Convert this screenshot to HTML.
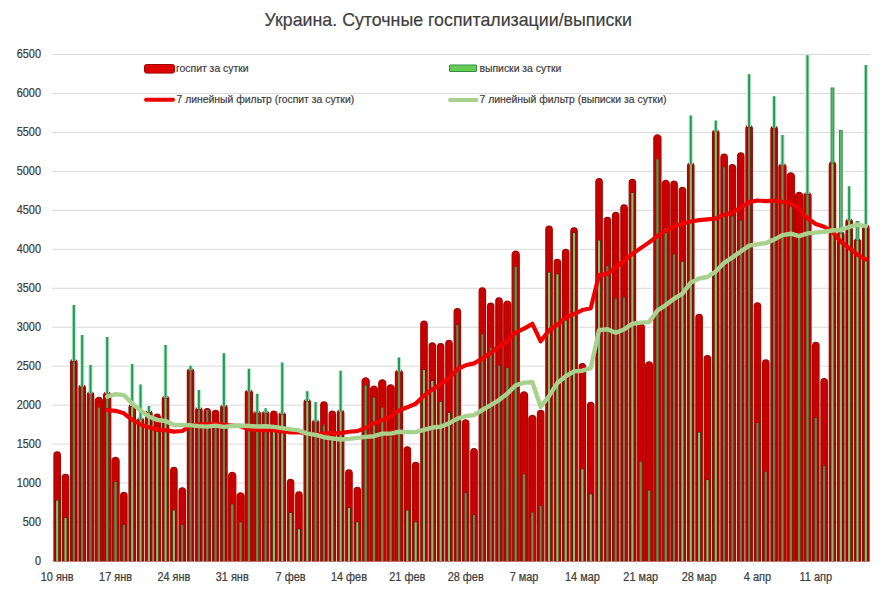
<!DOCTYPE html>
<html><head><meta charset="utf-8"><style>
html,body{margin:0;padding:0;background:#fff;width:896px;height:600px;overflow:hidden}
.ax{font-family:"Liberation Sans",sans-serif;font-size:12px;fill:#404040;stroke:#404040;stroke-width:0.25px}
.lg{font-family:"Liberation Sans",sans-serif;font-size:10.4px;fill:#404040;stroke:#404040;stroke-width:0.2px}
.tt{font-family:"Liberation Sans",sans-serif;font-size:17.8px;fill:#404040;stroke:#404040;stroke-width:0.2px}
</style></head><body>
<svg width="896" height="600" viewBox="0 0 896 600" style="position:absolute;left:0;top:0">
<line x1="52" y1="522.04" x2="870" y2="522.04" stroke="#d9d9d9" stroke-width="1"/>
<line x1="52" y1="483.08" x2="870" y2="483.08" stroke="#d9d9d9" stroke-width="1"/>
<line x1="52" y1="444.12" x2="870" y2="444.12" stroke="#d9d9d9" stroke-width="1"/>
<line x1="52" y1="405.16" x2="870" y2="405.16" stroke="#d9d9d9" stroke-width="1"/>
<line x1="52" y1="366.20" x2="870" y2="366.20" stroke="#d9d9d9" stroke-width="1"/>
<line x1="52" y1="327.24" x2="870" y2="327.24" stroke="#d9d9d9" stroke-width="1"/>
<line x1="52" y1="288.28" x2="870" y2="288.28" stroke="#d9d9d9" stroke-width="1"/>
<line x1="52" y1="249.32" x2="870" y2="249.32" stroke="#d9d9d9" stroke-width="1"/>
<line x1="52" y1="210.36" x2="870" y2="210.36" stroke="#d9d9d9" stroke-width="1"/>
<line x1="52" y1="171.40" x2="870" y2="171.40" stroke="#d9d9d9" stroke-width="1"/>
<line x1="52" y1="132.44" x2="870" y2="132.44" stroke="#d9d9d9" stroke-width="1"/>
<line x1="52" y1="93.48" x2="870" y2="93.48" stroke="#d9d9d9" stroke-width="1"/>
<line x1="52" y1="54.52" x2="870" y2="54.52" stroke="#d9d9d9" stroke-width="1"/>
<line x1="52" y1="561.50" x2="870" y2="561.50" stroke="#d9d9d9" stroke-width="1"/>
<text transform="translate(41,564.60) scale(0.91,1)" text-anchor="end" class="ax">0</text>
<text transform="translate(41,525.64) scale(0.91,1)" text-anchor="end" class="ax">500</text>
<text transform="translate(41,486.68) scale(0.91,1)" text-anchor="end" class="ax">1000</text>
<text transform="translate(41,447.72) scale(0.91,1)" text-anchor="end" class="ax">1500</text>
<text transform="translate(41,408.76) scale(0.91,1)" text-anchor="end" class="ax">2000</text>
<text transform="translate(41,369.80) scale(0.91,1)" text-anchor="end" class="ax">2500</text>
<text transform="translate(41,330.84) scale(0.91,1)" text-anchor="end" class="ax">3000</text>
<text transform="translate(41,291.88) scale(0.91,1)" text-anchor="end" class="ax">3500</text>
<text transform="translate(41,252.92) scale(0.91,1)" text-anchor="end" class="ax">4000</text>
<text transform="translate(41,213.96) scale(0.91,1)" text-anchor="end" class="ax">4500</text>
<text transform="translate(41,175.00) scale(0.91,1)" text-anchor="end" class="ax">5000</text>
<text transform="translate(41,136.04) scale(0.91,1)" text-anchor="end" class="ax">5500</text>
<text transform="translate(41,97.08) scale(0.91,1)" text-anchor="end" class="ax">6000</text>
<text transform="translate(41,58.12) scale(0.91,1)" text-anchor="end" class="ax">6500</text>
<text transform="translate(57.17,581) scale(0.91,1)" text-anchor="middle" class="ax">10 янв</text>
<line x1="53.00" y1="561" x2="53.00" y2="565" stroke="#e6e6e6" stroke-width="1"/>
<text transform="translate(115.53,581) scale(0.91,1)" text-anchor="middle" class="ax">17 янв</text>
<line x1="111.36" y1="561" x2="111.36" y2="565" stroke="#e6e6e6" stroke-width="1"/>
<text transform="translate(173.88,581) scale(0.91,1)" text-anchor="middle" class="ax">24 янв</text>
<line x1="169.71" y1="561" x2="169.71" y2="565" stroke="#e6e6e6" stroke-width="1"/>
<text transform="translate(232.24,581) scale(0.91,1)" text-anchor="middle" class="ax">31 янв</text>
<line x1="228.07" y1="561" x2="228.07" y2="565" stroke="#e6e6e6" stroke-width="1"/>
<text transform="translate(290.60,581) scale(0.91,1)" text-anchor="middle" class="ax">7 фев</text>
<line x1="286.43" y1="561" x2="286.43" y2="565" stroke="#e6e6e6" stroke-width="1"/>
<text transform="translate(348.95,581) scale(0.91,1)" text-anchor="middle" class="ax">14 фев</text>
<line x1="344.79" y1="561" x2="344.79" y2="565" stroke="#e6e6e6" stroke-width="1"/>
<text transform="translate(407.31,581) scale(0.91,1)" text-anchor="middle" class="ax">21 фев</text>
<line x1="403.14" y1="561" x2="403.14" y2="565" stroke="#e6e6e6" stroke-width="1"/>
<text transform="translate(465.67,581) scale(0.91,1)" text-anchor="middle" class="ax">28 фев</text>
<line x1="461.50" y1="561" x2="461.50" y2="565" stroke="#e6e6e6" stroke-width="1"/>
<text transform="translate(524.03,581) scale(0.91,1)" text-anchor="middle" class="ax">7 мар</text>
<line x1="519.86" y1="561" x2="519.86" y2="565" stroke="#e6e6e6" stroke-width="1"/>
<text transform="translate(582.38,581) scale(0.91,1)" text-anchor="middle" class="ax">14 мар</text>
<line x1="578.21" y1="561" x2="578.21" y2="565" stroke="#e6e6e6" stroke-width="1"/>
<text transform="translate(640.74,581) scale(0.91,1)" text-anchor="middle" class="ax">21 мар</text>
<line x1="636.57" y1="561" x2="636.57" y2="565" stroke="#e6e6e6" stroke-width="1"/>
<text transform="translate(699.10,581) scale(0.91,1)" text-anchor="middle" class="ax">28 мар</text>
<line x1="694.93" y1="561" x2="694.93" y2="565" stroke="#e6e6e6" stroke-width="1"/>
<text transform="translate(757.45,581) scale(0.91,1)" text-anchor="middle" class="ax">4 апр</text>
<line x1="753.29" y1="561" x2="753.29" y2="565" stroke="#e6e6e6" stroke-width="1"/>
<text transform="translate(815.81,581) scale(0.91,1)" text-anchor="middle" class="ax">11 апр</text>
<line x1="811.64" y1="561" x2="811.64" y2="565" stroke="#e6e6e6" stroke-width="1"/>
<path d="M53.97,561.0 L53.97,455.00 A3.2,3.2 0 0 1 57.17,451.80 L57.17,451.80 A3.2,3.2 0 0 1 60.37,455.00 L60.37,561.0 Z" fill="#c80000" stroke="#a00800" stroke-width="1.2"/>
<path d="M62.31,561.0 L62.31,477.50 A3.2,3.2 0 0 1 65.51,474.30 L65.51,474.30 A3.2,3.2 0 0 1 68.71,477.50 L68.71,561.0 Z" fill="#c80000" stroke="#a00800" stroke-width="1.2"/>
<path d="M70.64,561.0 L70.64,362.50 A3.2,3.2 0 0 1 73.84,359.30 L73.84,359.30 A3.2,3.2 0 0 1 77.04,362.50 L77.04,561.0 Z" fill="#c80000" stroke="#a00800" stroke-width="1.2"/>
<path d="M78.98,561.0 L78.98,388.00 A3.2,3.2 0 0 1 82.18,384.80 L82.18,384.80 A3.2,3.2 0 0 1 85.38,388.00 L85.38,561.0 Z" fill="#c80000" stroke="#a00800" stroke-width="1.2"/>
<path d="M87.32,561.0 L87.32,395.00 A3.2,3.2 0 0 1 90.52,391.80 L90.52,391.80 A3.2,3.2 0 0 1 93.72,395.00 L93.72,561.0 Z" fill="#c80000" stroke="#a00800" stroke-width="1.2"/>
<path d="M95.30,561.0 L95.30,400.85 A3.55,3.55 0 0 1 98.85,397.30 L98.85,397.30 A3.55,3.55 0 0 1 102.40,400.85 L102.40,561.0 Z" fill="#c80000" stroke="#b00000" stroke-width="1.2"/>
<path d="M103.64,561.0 L103.64,395.35 A3.55,3.55 0 0 1 107.19,391.80 L107.19,391.80 A3.55,3.55 0 0 1 110.74,395.35 L110.74,561.0 Z" fill="#c80000" stroke="#b00000" stroke-width="1.2"/>
<path d="M111.98,561.0 L111.98,460.85 A3.55,3.55 0 0 1 115.53,457.30 L115.53,457.30 A3.55,3.55 0 0 1 119.08,460.85 L119.08,561.0 Z" fill="#c80000" stroke="#b00000" stroke-width="1.2"/>
<path d="M120.66,561.0 L120.66,495.50 A3.2,3.2 0 0 1 123.86,492.30 L123.86,492.30 A3.2,3.2 0 0 1 127.06,495.50 L127.06,561.0 Z" fill="#c80000" stroke="#a00800" stroke-width="1.2"/>
<path d="M129.00,561.0 L129.00,407.50 A3.2,3.2 0 0 1 132.20,404.30 L132.20,404.30 A3.2,3.2 0 0 1 135.40,407.50 L135.40,561.0 Z" fill="#c80000" stroke="#a00800" stroke-width="1.2"/>
<path d="M137.34,561.0 L137.34,421.00 A3.2,3.2 0 0 1 140.54,417.80 L140.54,417.80 A3.2,3.2 0 0 1 143.74,421.00 L143.74,561.0 Z" fill="#c80000" stroke="#a00800" stroke-width="1.2"/>
<path d="M145.67,561.0 L145.67,413.70 A3.2,3.2 0 0 1 148.87,410.50 L148.87,410.50 A3.2,3.2 0 0 1 152.07,413.70 L152.07,561.0 Z" fill="#c80000" stroke="#a00800" stroke-width="1.2"/>
<path d="M154.01,561.0 L154.01,417.30 A3.2,3.2 0 0 1 157.21,414.10 L157.21,414.10 A3.2,3.2 0 0 1 160.41,417.30 L160.41,561.0 Z" fill="#c80000" stroke="#a00800" stroke-width="1.2"/>
<path d="M162.35,561.0 L162.35,399.30 A3.2,3.2 0 0 1 165.55,396.10 L165.55,396.10 A3.2,3.2 0 0 1 168.75,399.30 L168.75,561.0 Z" fill="#c80000" stroke="#a00800" stroke-width="1.2"/>
<path d="M170.68,561.0 L170.68,470.50 A3.2,3.2 0 0 1 173.88,467.30 L173.88,467.30 A3.2,3.2 0 0 1 177.08,470.50 L177.08,561.0 Z" fill="#c80000" stroke="#a00800" stroke-width="1.2"/>
<path d="M179.02,561.0 L179.02,491.00 A3.2,3.2 0 0 1 182.22,487.80 L182.22,487.80 A3.2,3.2 0 0 1 185.42,491.00 L185.42,561.0 Z" fill="#c80000" stroke="#a00800" stroke-width="1.2"/>
<path d="M187.36,561.0 L187.36,371.75 A3.2,3.2 0 0 1 190.56,368.55 L190.56,368.55 A3.2,3.2 0 0 1 193.76,371.75 L193.76,561.0 Z" fill="#c80000" stroke="#a00800" stroke-width="1.2"/>
<path d="M195.69,561.0 L195.69,410.50 A3.2,3.2 0 0 1 198.89,407.30 L198.89,407.30 A3.2,3.2 0 0 1 202.09,410.50 L202.09,561.0 Z" fill="#c80000" stroke="#a00800" stroke-width="1.2"/>
<path d="M204.03,561.0 L204.03,411.75 A3.2,3.2 0 0 1 207.23,408.55 L207.23,408.55 A3.2,3.2 0 0 1 210.43,411.75 L210.43,561.0 Z" fill="#c80000" stroke="#a00800" stroke-width="1.2"/>
<path d="M212.37,561.0 L212.37,413.50 A3.2,3.2 0 0 1 215.57,410.30 L215.57,410.30 A3.2,3.2 0 0 1 218.77,413.50 L218.77,561.0 Z" fill="#c80000" stroke="#a00800" stroke-width="1.2"/>
<path d="M220.70,561.0 L220.70,408.00 A3.2,3.2 0 0 1 223.90,404.80 L223.90,404.80 A3.2,3.2 0 0 1 227.10,408.00 L227.10,561.0 Z" fill="#c80000" stroke="#a00800" stroke-width="1.2"/>
<path d="M228.69,561.0 L228.69,475.85 A3.55,3.55 0 0 1 232.24,472.30 L232.24,472.30 A3.55,3.55 0 0 1 235.79,475.85 L235.79,561.0 Z" fill="#c80000" stroke="#b00000" stroke-width="1.2"/>
<path d="M237.03,561.0 L237.03,496.35 A3.55,3.55 0 0 1 240.58,492.80 L240.58,492.80 A3.55,3.55 0 0 1 244.13,496.35 L244.13,561.0 Z" fill="#c80000" stroke="#b00000" stroke-width="1.2"/>
<path d="M245.36,561.0 L245.36,393.35 A3.55,3.55 0 0 1 248.91,389.80 L248.91,389.80 A3.55,3.55 0 0 1 252.46,393.35 L252.46,561.0 Z" fill="#c80000" stroke="#b00000" stroke-width="1.2"/>
<path d="M253.70,561.0 L253.70,414.60 A3.55,3.55 0 0 1 257.25,411.05 L257.25,411.05 A3.55,3.55 0 0 1 260.80,414.60 L260.80,561.0 Z" fill="#c80000" stroke="#b00000" stroke-width="1.2"/>
<path d="M262.39,561.0 L262.39,414.25 A3.2,3.2 0 0 1 265.59,411.05 L265.59,411.05 A3.2,3.2 0 0 1 268.79,414.25 L268.79,561.0 Z" fill="#c80000" stroke="#a00800" stroke-width="1.2"/>
<path d="M270.72,561.0 L270.72,414.25 A3.2,3.2 0 0 1 273.92,411.05 L273.92,411.05 A3.2,3.2 0 0 1 277.12,414.25 L277.12,561.0 Z" fill="#c80000" stroke="#a00800" stroke-width="1.2"/>
<path d="M279.06,561.0 L279.06,415.50 A3.2,3.2 0 0 1 282.26,412.30 L282.26,412.30 A3.2,3.2 0 0 1 285.46,415.50 L285.46,561.0 Z" fill="#c80000" stroke="#a00800" stroke-width="1.2"/>
<path d="M287.40,561.0 L287.40,482.50 A3.2,3.2 0 0 1 290.60,479.30 L290.60,479.30 A3.2,3.2 0 0 1 293.80,482.50 L293.80,561.0 Z" fill="#c80000" stroke="#a00800" stroke-width="1.2"/>
<path d="M295.73,561.0 L295.73,495.00 A3.2,3.2 0 0 1 298.93,491.80 L298.93,491.80 A3.2,3.2 0 0 1 302.13,495.00 L302.13,561.0 Z" fill="#c80000" stroke="#a00800" stroke-width="1.2"/>
<path d="M304.07,561.0 L304.07,402.50 A3.2,3.2 0 0 1 307.27,399.30 L307.27,399.30 A3.2,3.2 0 0 1 310.47,402.50 L310.47,561.0 Z" fill="#c80000" stroke="#a00800" stroke-width="1.2"/>
<path d="M312.41,561.0 L312.41,423.00 A3.2,3.2 0 0 1 315.61,419.80 L315.61,419.80 A3.2,3.2 0 0 1 318.81,423.00 L318.81,561.0 Z" fill="#c80000" stroke="#a00800" stroke-width="1.2"/>
<path d="M320.74,561.0 L320.74,405.00 A3.2,3.2 0 0 1 323.94,401.80 L323.94,401.80 A3.2,3.2 0 0 1 327.14,405.00 L327.14,561.0 Z" fill="#c80000" stroke="#a00800" stroke-width="1.2"/>
<path d="M329.08,561.0 L329.08,414.25 A3.2,3.2 0 0 1 332.28,411.05 L332.28,411.05 A3.2,3.2 0 0 1 335.48,414.25 L335.48,561.0 Z" fill="#c80000" stroke="#a00800" stroke-width="1.2"/>
<path d="M337.42,561.0 L337.42,413.00 A3.2,3.2 0 0 1 340.62,409.80 L340.62,409.80 A3.2,3.2 0 0 1 343.82,413.00 L343.82,561.0 Z" fill="#c80000" stroke="#a00800" stroke-width="1.2"/>
<path d="M345.75,561.0 L345.75,473.00 A3.2,3.2 0 0 1 348.95,469.80 L348.95,469.80 A3.2,3.2 0 0 1 352.15,473.00 L352.15,561.0 Z" fill="#c80000" stroke="#a00800" stroke-width="1.2"/>
<path d="M354.09,561.0 L354.09,490.50 A3.2,3.2 0 0 1 357.29,487.30 L357.29,487.30 A3.2,3.2 0 0 1 360.49,490.50 L360.49,561.0 Z" fill="#c80000" stroke="#a00800" stroke-width="1.2"/>
<path d="M362.08,561.0 L362.08,381.35 A3.55,3.55 0 0 1 365.63,377.80 L365.63,377.80 A3.55,3.55 0 0 1 369.18,381.35 L369.18,561.0 Z" fill="#c80000" stroke="#b00000" stroke-width="1.2"/>
<path d="M370.41,561.0 L370.41,389.60 A3.55,3.55 0 0 1 373.96,386.05 L373.96,386.05 A3.55,3.55 0 0 1 377.51,389.60 L377.51,561.0 Z" fill="#c80000" stroke="#b00000" stroke-width="1.2"/>
<path d="M378.75,561.0 L378.75,383.35 A3.55,3.55 0 0 1 382.30,379.80 L382.30,379.80 A3.55,3.55 0 0 1 385.85,383.35 L385.85,561.0 Z" fill="#c80000" stroke="#b00000" stroke-width="1.2"/>
<path d="M387.09,561.0 L387.09,388.35 A3.55,3.55 0 0 1 390.64,384.80 L390.64,384.80 A3.55,3.55 0 0 1 394.19,388.35 L394.19,561.0 Z" fill="#c80000" stroke="#b00000" stroke-width="1.2"/>
<path d="M395.42,561.0 L395.42,373.35 A3.55,3.55 0 0 1 398.97,369.80 L398.97,369.80 A3.55,3.55 0 0 1 402.52,373.35 L402.52,561.0 Z" fill="#c80000" stroke="#b00000" stroke-width="1.2"/>
<path d="M404.11,561.0 L404.11,450.00 A3.2,3.2 0 0 1 407.31,446.80 L407.31,446.80 A3.2,3.2 0 0 1 410.51,450.00 L410.51,561.0 Z" fill="#c80000" stroke="#a00800" stroke-width="1.2"/>
<path d="M412.45,561.0 L412.45,465.50 A3.2,3.2 0 0 1 415.65,462.30 L415.65,462.30 A3.2,3.2 0 0 1 418.85,465.50 L418.85,561.0 Z" fill="#c80000" stroke="#a00800" stroke-width="1.2"/>
<path d="M420.78,561.0 L420.78,324.25 A3.2,3.2 0 0 1 423.98,321.05 L423.98,321.05 A3.2,3.2 0 0 1 427.18,324.25 L427.18,561.0 Z" fill="#c80000" stroke="#a00800" stroke-width="1.2"/>
<path d="M429.12,561.0 L429.12,346.00 A3.2,3.2 0 0 1 432.32,342.80 L432.32,342.80 A3.2,3.2 0 0 1 435.52,346.00 L435.52,561.0 Z" fill="#c80000" stroke="#a00800" stroke-width="1.2"/>
<path d="M437.46,561.0 L437.46,346.75 A3.2,3.2 0 0 1 440.66,343.55 L440.66,343.55 A3.2,3.2 0 0 1 443.86,346.75 L443.86,561.0 Z" fill="#c80000" stroke="#a00800" stroke-width="1.2"/>
<path d="M445.79,561.0 L445.79,343.50 A3.2,3.2 0 0 1 448.99,340.30 L448.99,340.30 A3.2,3.2 0 0 1 452.19,343.50 L452.19,561.0 Z" fill="#c80000" stroke="#a00800" stroke-width="1.2"/>
<path d="M454.13,561.0 L454.13,311.75 A3.2,3.2 0 0 1 457.33,308.55 L457.33,308.55 A3.2,3.2 0 0 1 460.53,311.75 L460.53,561.0 Z" fill="#c80000" stroke="#a00800" stroke-width="1.2"/>
<path d="M462.47,561.0 L462.47,423.00 A3.2,3.2 0 0 1 465.67,419.80 L465.67,419.80 A3.2,3.2 0 0 1 468.87,423.00 L468.87,561.0 Z" fill="#c80000" stroke="#a00800" stroke-width="1.2"/>
<path d="M470.81,561.0 L470.81,451.75 A3.2,3.2 0 0 1 474.01,448.55 L474.01,448.55 A3.2,3.2 0 0 1 477.21,451.75 L477.21,561.0 Z" fill="#c80000" stroke="#a00800" stroke-width="1.2"/>
<path d="M479.14,561.0 L479.14,291.00 A3.2,3.2 0 0 1 482.34,287.80 L482.34,287.80 A3.2,3.2 0 0 1 485.54,291.00 L485.54,561.0 Z" fill="#c80000" stroke="#a00800" stroke-width="1.2"/>
<path d="M487.48,561.0 L487.48,306.25 A3.2,3.2 0 0 1 490.68,303.05 L490.68,303.05 A3.2,3.2 0 0 1 493.88,306.25 L493.88,561.0 Z" fill="#c80000" stroke="#a00800" stroke-width="1.2"/>
<path d="M495.82,561.0 L495.82,301.00 A3.2,3.2 0 0 1 499.02,297.80 L499.02,297.80 A3.2,3.2 0 0 1 502.22,301.00 L502.22,561.0 Z" fill="#c80000" stroke="#a00800" stroke-width="1.2"/>
<path d="M503.80,561.0 L503.80,304.60 A3.55,3.55 0 0 1 507.35,301.05 L507.35,301.05 A3.55,3.55 0 0 1 510.90,304.60 L510.90,561.0 Z" fill="#c80000" stroke="#b00000" stroke-width="1.2"/>
<path d="M512.14,561.0 L512.14,254.60 A3.55,3.55 0 0 1 515.69,251.05 L515.69,251.05 A3.55,3.55 0 0 1 519.24,254.60 L519.24,561.0 Z" fill="#c80000" stroke="#b00000" stroke-width="1.2"/>
<path d="M520.48,561.0 L520.48,395.35 A3.55,3.55 0 0 1 524.03,391.80 L524.03,391.80 A3.55,3.55 0 0 1 527.58,395.35 L527.58,561.0 Z" fill="#c80000" stroke="#b00000" stroke-width="1.2"/>
<path d="M528.81,561.0 L528.81,418.85 A3.55,3.55 0 0 1 532.36,415.30 L532.36,415.30 A3.55,3.55 0 0 1 535.91,418.85 L535.91,561.0 Z" fill="#c80000" stroke="#b00000" stroke-width="1.2"/>
<path d="M537.50,561.0 L537.50,413.50 A3.2,3.2 0 0 1 540.70,410.30 L540.70,410.30 A3.2,3.2 0 0 1 543.90,413.50 L543.90,561.0 Z" fill="#c80000" stroke="#a00800" stroke-width="1.2"/>
<path d="M545.84,561.0 L545.84,229.25 A3.2,3.2 0 0 1 549.04,226.05 L549.04,226.05 A3.2,3.2 0 0 1 552.24,229.25 L552.24,561.0 Z" fill="#c80000" stroke="#a00800" stroke-width="1.2"/>
<path d="M554.17,561.0 L554.17,262.50 A3.2,3.2 0 0 1 557.37,259.30 L557.37,259.30 A3.2,3.2 0 0 1 560.57,262.50 L560.57,561.0 Z" fill="#c80000" stroke="#a00800" stroke-width="1.2"/>
<path d="M562.51,561.0 L562.51,252.50 A3.2,3.2 0 0 1 565.71,249.30 L565.71,249.30 A3.2,3.2 0 0 1 568.91,252.50 L568.91,561.0 Z" fill="#c80000" stroke="#a00800" stroke-width="1.2"/>
<path d="M570.85,561.0 L570.85,231.00 A3.2,3.2 0 0 1 574.05,227.80 L574.05,227.80 A3.2,3.2 0 0 1 577.25,231.00 L577.25,561.0 Z" fill="#c80000" stroke="#a00800" stroke-width="1.2"/>
<path d="M579.18,561.0 L579.18,366.75 A3.2,3.2 0 0 1 582.38,363.55 L582.38,363.55 A3.2,3.2 0 0 1 585.58,366.75 L585.58,561.0 Z" fill="#c80000" stroke="#a00800" stroke-width="1.2"/>
<path d="M587.52,561.0 L587.52,405.50 A3.2,3.2 0 0 1 590.72,402.30 L590.72,402.30 A3.2,3.2 0 0 1 593.92,405.50 L593.92,561.0 Z" fill="#c80000" stroke="#a00800" stroke-width="1.2"/>
<path d="M595.86,561.0 L595.86,181.75 A3.2,3.2 0 0 1 599.06,178.55 L599.06,178.55 A3.2,3.2 0 0 1 602.26,181.75 L602.26,561.0 Z" fill="#c80000" stroke="#a00800" stroke-width="1.2"/>
<path d="M604.19,561.0 L604.19,220.50 A3.2,3.2 0 0 1 607.39,217.30 L607.39,217.30 A3.2,3.2 0 0 1 610.59,220.50 L610.59,561.0 Z" fill="#c80000" stroke="#a00800" stroke-width="1.2"/>
<path d="M612.53,561.0 L612.53,215.50 A3.2,3.2 0 0 1 615.73,212.30 L615.73,212.30 A3.2,3.2 0 0 1 618.93,215.50 L618.93,561.0 Z" fill="#c80000" stroke="#a00800" stroke-width="1.2"/>
<path d="M620.87,561.0 L620.87,208.00 A3.2,3.2 0 0 1 624.07,204.80 L624.07,204.80 A3.2,3.2 0 0 1 627.27,208.00 L627.27,561.0 Z" fill="#c80000" stroke="#a00800" stroke-width="1.2"/>
<path d="M629.20,561.0 L629.20,182.50 A3.2,3.2 0 0 1 632.40,179.30 L632.40,179.30 A3.2,3.2 0 0 1 635.60,182.50 L635.60,561.0 Z" fill="#c80000" stroke="#a00800" stroke-width="1.2"/>
<path d="M637.19,561.0 L637.19,327.10 A3.55,3.55 0 0 1 640.74,323.55 L640.74,323.55 A3.55,3.55 0 0 1 644.29,327.10 L644.29,561.0 Z" fill="#c80000" stroke="#b00000" stroke-width="1.2"/>
<path d="M645.53,561.0 L645.53,365.35 A3.55,3.55 0 0 1 649.08,361.80 L649.08,361.80 A3.55,3.55 0 0 1 652.63,365.35 L652.63,561.0 Z" fill="#c80000" stroke="#b00000" stroke-width="1.2"/>
<path d="M653.86,561.0 L653.86,138.35 A3.55,3.55 0 0 1 657.41,134.80 L657.41,134.80 A3.55,3.55 0 0 1 660.96,138.35 L660.96,561.0 Z" fill="#c80000" stroke="#b00000" stroke-width="1.2"/>
<path d="M662.20,561.0 L662.20,183.85 A3.55,3.55 0 0 1 665.75,180.30 L665.75,180.30 A3.55,3.55 0 0 1 669.30,183.85 L669.30,561.0 Z" fill="#c80000" stroke="#b00000" stroke-width="1.2"/>
<path d="M670.89,561.0 L670.89,184.25 A3.2,3.2 0 0 1 674.09,181.05 L674.09,181.05 A3.2,3.2 0 0 1 677.29,184.25 L677.29,561.0 Z" fill="#c80000" stroke="#a00800" stroke-width="1.2"/>
<path d="M679.22,561.0 L679.22,190.50 A3.2,3.2 0 0 1 682.42,187.30 L682.42,187.30 A3.2,3.2 0 0 1 685.62,190.50 L685.62,561.0 Z" fill="#c80000" stroke="#a00800" stroke-width="1.2"/>
<path d="M687.56,561.0 L687.56,166.00 A3.2,3.2 0 0 1 690.76,162.80 L690.76,162.80 A3.2,3.2 0 0 1 693.96,166.00 L693.96,561.0 Z" fill="#c80000" stroke="#a00800" stroke-width="1.2"/>
<path d="M695.90,561.0 L695.90,317.50 A3.2,3.2 0 0 1 699.10,314.30 L699.10,314.30 A3.2,3.2 0 0 1 702.30,317.50 L702.30,561.0 Z" fill="#c80000" stroke="#a00800" stroke-width="1.2"/>
<path d="M704.23,561.0 L704.23,358.75 A3.2,3.2 0 0 1 707.43,355.55 L707.43,355.55 A3.2,3.2 0 0 1 710.63,358.75 L710.63,561.0 Z" fill="#c80000" stroke="#a00800" stroke-width="1.2"/>
<path d="M712.57,561.0 L712.57,133.00 A3.2,3.2 0 0 1 715.77,129.80 L715.77,129.80 A3.2,3.2 0 0 1 718.97,133.00 L718.97,561.0 Z" fill="#c80000" stroke="#a00800" stroke-width="1.2"/>
<path d="M720.91,561.0 L720.91,157.25 A3.2,3.2 0 0 1 724.11,154.05 L724.11,154.05 A3.2,3.2 0 0 1 727.31,157.25 L727.31,561.0 Z" fill="#c80000" stroke="#a00800" stroke-width="1.2"/>
<path d="M729.24,561.0 L729.24,167.70 A3.2,3.2 0 0 1 732.44,164.50 L732.44,164.50 A3.2,3.2 0 0 1 735.64,167.70 L735.64,561.0 Z" fill="#c80000" stroke="#a00800" stroke-width="1.2"/>
<path d="M737.58,561.0 L737.58,156.00 A3.2,3.2 0 0 1 740.78,152.80 L740.78,152.80 A3.2,3.2 0 0 1 743.98,156.00 L743.98,561.0 Z" fill="#c80000" stroke="#a00800" stroke-width="1.2"/>
<path d="M745.92,561.0 L745.92,128.50 A3.2,3.2 0 0 1 749.12,125.30 L749.12,125.30 A3.2,3.2 0 0 1 752.32,128.50 L752.32,561.0 Z" fill="#c80000" stroke="#a00800" stroke-width="1.2"/>
<path d="M754.25,561.0 L754.25,306.00 A3.2,3.2 0 0 1 757.45,302.80 L757.45,302.80 A3.2,3.2 0 0 1 760.65,306.00 L760.65,561.0 Z" fill="#c80000" stroke="#a00800" stroke-width="1.2"/>
<path d="M762.59,561.0 L762.59,363.00 A3.2,3.2 0 0 1 765.79,359.80 L765.79,359.80 A3.2,3.2 0 0 1 768.99,363.00 L768.99,561.0 Z" fill="#c80000" stroke="#a00800" stroke-width="1.2"/>
<path d="M770.93,561.0 L770.93,129.25 A3.2,3.2 0 0 1 774.13,126.05 L774.13,126.05 A3.2,3.2 0 0 1 777.33,129.25 L777.33,561.0 Z" fill="#c80000" stroke="#a00800" stroke-width="1.2"/>
<path d="M778.91,561.0 L778.91,167.10 A3.55,3.55 0 0 1 782.46,163.55 L782.46,163.55 A3.55,3.55 0 0 1 786.01,167.10 L786.01,561.0 Z" fill="#c80000" stroke="#b00000" stroke-width="1.2"/>
<path d="M787.25,561.0 L787.25,176.35 A3.55,3.55 0 0 1 790.80,172.80 L790.80,172.80 A3.55,3.55 0 0 1 794.35,176.35 L794.35,561.0 Z" fill="#c80000" stroke="#b00000" stroke-width="1.2"/>
<path d="M795.59,561.0 L795.59,195.85 A3.55,3.55 0 0 1 799.14,192.30 L799.14,192.30 A3.55,3.55 0 0 1 802.69,195.85 L802.69,561.0 Z" fill="#c80000" stroke="#b00000" stroke-width="1.2"/>
<path d="M803.92,561.0 L803.92,195.85 A3.55,3.55 0 0 1 807.47,192.30 L807.47,192.30 A3.55,3.55 0 0 1 811.02,195.85 L811.02,561.0 Z" fill="#c80000" stroke="#b00000" stroke-width="1.2"/>
<path d="M812.61,561.0 L812.61,345.50 A3.2,3.2 0 0 1 815.81,342.30 L815.81,342.30 A3.2,3.2 0 0 1 819.01,345.50 L819.01,561.0 Z" fill="#c80000" stroke="#a00800" stroke-width="1.2"/>
<path d="M820.95,561.0 L820.95,381.75 A3.2,3.2 0 0 1 824.15,378.55 L824.15,378.55 A3.2,3.2 0 0 1 827.35,381.75 L827.35,561.0 Z" fill="#c80000" stroke="#a00800" stroke-width="1.2"/>
<path d="M829.28,561.0 L829.28,165.00 A3.2,3.2 0 0 1 832.48,161.80 L832.48,161.80 A3.2,3.2 0 0 1 835.68,165.00 L835.68,561.0 Z" fill="#c80000" stroke="#a00800" stroke-width="1.2"/>
<path d="M837.62,561.0 L837.62,235.00 A3.2,3.2 0 0 1 840.82,231.80 L840.82,231.80 A3.2,3.2 0 0 1 844.02,235.00 L844.02,561.0 Z" fill="#c80000" stroke="#a00800" stroke-width="1.2"/>
<path d="M845.96,561.0 L845.96,222.00 A3.2,3.2 0 0 1 849.16,218.80 L849.16,218.80 A3.2,3.2 0 0 1 852.36,222.00 L852.36,561.0 Z" fill="#c80000" stroke="#a00800" stroke-width="1.2"/>
<path d="M854.29,561.0 L854.29,242.00 A3.2,3.2 0 0 1 857.49,238.80 L857.49,238.80 A3.2,3.2 0 0 1 860.69,242.00 L860.69,561.0 Z" fill="#c80000" stroke="#a00800" stroke-width="1.2"/>
<path d="M862.63,561.0 L862.63,228.00 A3.2,3.2 0 0 1 865.83,224.80 L865.83,224.80 A3.2,3.2 0 0 1 869.03,228.00 L869.03,561.0 Z" fill="#c80000" stroke="#a00800" stroke-width="1.2"/>
<rect x="55.17" y="500.00" width="4.0" height="61.00" fill="#4e1c04"/>
<rect x="56.07" y="500.50" width="2.2" height="60.50" fill="#92bc6c"/>
<rect x="63.51" y="517.50" width="4.0" height="43.50" fill="#4e1c04"/>
<rect x="64.41" y="518.00" width="2.2" height="43.00" fill="#92bc6c"/>
<rect x="71.84" y="361.00" width="4.0" height="200.00" fill="#5a2208"/>
<rect x="72.74" y="361.50" width="2.2" height="199.50" fill="#8a7450"/>
<rect x="71.84" y="305.00" width="4" height="56.00" fill="#b8e6c4"/>
<rect x="72.84" y="305.00" width="2" height="56.00" fill="#1f9a58"/>
<rect x="80.18" y="386.50" width="4.0" height="174.50" fill="#5a2208"/>
<rect x="81.08" y="387.00" width="2.2" height="174.00" fill="#8a7450"/>
<rect x="80.18" y="335.00" width="4" height="51.50" fill="#b8e6c4"/>
<rect x="81.18" y="335.00" width="2" height="51.50" fill="#1f9a58"/>
<rect x="88.52" y="393.50" width="4.0" height="167.50" fill="#5a2208"/>
<rect x="89.42" y="394.00" width="2.2" height="167.00" fill="#8a7450"/>
<rect x="88.52" y="365.00" width="4" height="28.50" fill="#b8e6c4"/>
<rect x="89.52" y="365.00" width="2" height="28.50" fill="#1f9a58"/>
<rect x="97.20" y="407.00" width="3.3" height="154.00" fill="#6a2008"/>
<rect x="97.70" y="407.50" width="2.3" height="153.50" fill="#6a9050"/>
<rect x="105.54" y="393.50" width="3.3" height="167.50" fill="#6a2008"/>
<rect x="106.04" y="394.00" width="2.3" height="167.00" fill="#6a9050"/>
<rect x="105.19" y="337.00" width="4" height="56.50" fill="#b8e6c4"/>
<rect x="106.19" y="337.00" width="2" height="56.50" fill="#1f9a58"/>
<rect x="113.88" y="481.50" width="3.3" height="79.50" fill="#6a2008"/>
<rect x="114.38" y="482.00" width="2.3" height="79.00" fill="#6a9050"/>
<rect x="121.86" y="524.50" width="4.0" height="36.50" fill="#5a2208"/>
<rect x="122.76" y="525.00" width="2.2" height="36.00" fill="#8a7450"/>
<rect x="130.20" y="406.00" width="4.0" height="155.00" fill="#4e1c04"/>
<rect x="131.10" y="406.50" width="2.2" height="154.50" fill="#92bc6c"/>
<rect x="130.20" y="364.00" width="4" height="42.00" fill="#b8e6c4"/>
<rect x="131.20" y="364.00" width="2" height="42.00" fill="#1f9a58"/>
<rect x="138.54" y="419.50" width="4.0" height="141.50" fill="#4e1c04"/>
<rect x="139.44" y="420.00" width="2.2" height="141.00" fill="#92bc6c"/>
<rect x="138.54" y="384.50" width="4" height="35.00" fill="#b8e6c4"/>
<rect x="139.54" y="384.50" width="2" height="35.00" fill="#1f9a58"/>
<rect x="146.87" y="412.20" width="4.0" height="148.80" fill="#4e1c04"/>
<rect x="147.77" y="412.70" width="2.2" height="148.30" fill="#92bc6c"/>
<rect x="146.87" y="406.00" width="4" height="6.20" fill="#b8e6c4"/>
<rect x="147.87" y="406.00" width="2" height="6.20" fill="#1f9a58"/>
<rect x="155.21" y="431.00" width="4.0" height="130.00" fill="#4e1c04"/>
<rect x="156.11" y="431.50" width="2.2" height="129.50" fill="#92bc6c"/>
<rect x="163.55" y="397.80" width="4.0" height="163.20" fill="#4e1c04"/>
<rect x="164.45" y="398.30" width="2.2" height="162.70" fill="#92bc6c"/>
<rect x="163.55" y="345.00" width="4" height="52.80" fill="#b8e6c4"/>
<rect x="164.55" y="345.00" width="2" height="52.80" fill="#1f9a58"/>
<rect x="171.88" y="510.00" width="4.0" height="51.00" fill="#4e1c04"/>
<rect x="172.78" y="510.50" width="2.2" height="50.50" fill="#92bc6c"/>
<rect x="180.22" y="524.50" width="4.0" height="36.50" fill="#5a2208"/>
<rect x="181.12" y="525.00" width="2.2" height="36.00" fill="#8a7450"/>
<rect x="188.56" y="370.25" width="4.0" height="190.75" fill="#5a2208"/>
<rect x="189.46" y="370.75" width="2.2" height="190.25" fill="#8a7450"/>
<rect x="188.56" y="365.75" width="4" height="4.50" fill="#b8e6c4"/>
<rect x="189.56" y="365.75" width="2" height="4.50" fill="#1f9a58"/>
<rect x="196.89" y="409.00" width="4.0" height="152.00" fill="#5a2208"/>
<rect x="197.79" y="409.50" width="2.2" height="151.50" fill="#8a7450"/>
<rect x="196.89" y="390.00" width="4" height="19.00" fill="#b8e6c4"/>
<rect x="197.89" y="390.00" width="2" height="19.00" fill="#1f9a58"/>
<rect x="205.23" y="410.25" width="4.0" height="150.75" fill="#5a2208"/>
<rect x="206.13" y="410.75" width="2.2" height="150.25" fill="#8a7450"/>
<rect x="205.23" y="410.00" width="4" height="0.25" fill="#b8e6c4"/>
<rect x="206.23" y="410.00" width="2" height="0.25" fill="#1f9a58"/>
<rect x="213.57" y="424.00" width="4.0" height="137.00" fill="#5a2208"/>
<rect x="214.47" y="424.50" width="2.2" height="136.50" fill="#8a7450"/>
<rect x="221.90" y="406.50" width="4.0" height="154.50" fill="#5a2208"/>
<rect x="222.80" y="407.00" width="2.2" height="154.00" fill="#8a7450"/>
<rect x="221.90" y="353.25" width="4" height="53.25" fill="#b8e6c4"/>
<rect x="222.90" y="353.25" width="2" height="53.25" fill="#1f9a58"/>
<rect x="230.59" y="503.75" width="3.3" height="57.25" fill="#6a2008"/>
<rect x="231.09" y="504.25" width="2.3" height="56.75" fill="#6a9050"/>
<rect x="238.93" y="521.75" width="3.3" height="39.25" fill="#6a2008"/>
<rect x="239.43" y="522.25" width="2.3" height="38.75" fill="#6a9050"/>
<rect x="247.26" y="391.50" width="3.3" height="169.50" fill="#6a2008"/>
<rect x="247.76" y="392.00" width="2.3" height="169.00" fill="#6a9050"/>
<rect x="246.91" y="368.75" width="4" height="22.75" fill="#b8e6c4"/>
<rect x="247.91" y="368.75" width="2" height="22.75" fill="#1f9a58"/>
<rect x="255.60" y="412.75" width="3.3" height="148.25" fill="#6a2008"/>
<rect x="256.10" y="413.25" width="2.3" height="147.75" fill="#6a9050"/>
<rect x="255.25" y="393.75" width="4" height="19.00" fill="#b8e6c4"/>
<rect x="256.25" y="393.75" width="2" height="19.00" fill="#1f9a58"/>
<rect x="263.59" y="412.75" width="4.0" height="148.25" fill="#5a2208"/>
<rect x="264.49" y="413.25" width="2.2" height="147.75" fill="#8a7450"/>
<rect x="263.59" y="408.25" width="4" height="4.50" fill="#b8e6c4"/>
<rect x="264.59" y="408.25" width="2" height="4.50" fill="#1f9a58"/>
<rect x="271.92" y="428.00" width="4.0" height="133.00" fill="#4e1c04"/>
<rect x="272.82" y="428.50" width="2.2" height="132.50" fill="#92bc6c"/>
<rect x="280.26" y="414.00" width="4.0" height="147.00" fill="#4e1c04"/>
<rect x="281.16" y="414.50" width="2.2" height="146.50" fill="#92bc6c"/>
<rect x="280.26" y="362.50" width="4" height="51.50" fill="#b8e6c4"/>
<rect x="281.26" y="362.50" width="2" height="51.50" fill="#1f9a58"/>
<rect x="288.60" y="512.50" width="4.0" height="48.50" fill="#4e1c04"/>
<rect x="289.50" y="513.00" width="2.2" height="48.00" fill="#92bc6c"/>
<rect x="296.93" y="528.75" width="4.0" height="32.25" fill="#4e1c04"/>
<rect x="297.83" y="529.25" width="2.2" height="31.75" fill="#92bc6c"/>
<rect x="305.27" y="401.00" width="4.0" height="160.00" fill="#4e1c04"/>
<rect x="306.17" y="401.50" width="2.2" height="159.50" fill="#92bc6c"/>
<rect x="305.27" y="391.25" width="4" height="9.75" fill="#b8e6c4"/>
<rect x="306.27" y="391.25" width="2" height="9.75" fill="#1f9a58"/>
<rect x="313.61" y="421.50" width="4.0" height="139.50" fill="#5a2208"/>
<rect x="314.51" y="422.00" width="2.2" height="139.00" fill="#8a7450"/>
<rect x="313.61" y="402.00" width="4" height="19.50" fill="#b8e6c4"/>
<rect x="314.61" y="402.00" width="2" height="19.50" fill="#1f9a58"/>
<rect x="321.94" y="425.00" width="4.0" height="136.00" fill="#5a2208"/>
<rect x="322.84" y="425.50" width="2.2" height="135.50" fill="#8a7450"/>
<rect x="330.28" y="436.00" width="4.0" height="125.00" fill="#4e1c04"/>
<rect x="331.18" y="436.50" width="2.2" height="124.50" fill="#92bc6c"/>
<rect x="338.62" y="411.50" width="4.0" height="149.50" fill="#4e1c04"/>
<rect x="339.52" y="412.00" width="2.2" height="149.00" fill="#92bc6c"/>
<rect x="338.62" y="370.75" width="4" height="40.75" fill="#b8e6c4"/>
<rect x="339.62" y="370.75" width="2" height="40.75" fill="#1f9a58"/>
<rect x="346.95" y="507.50" width="4.0" height="53.50" fill="#4e1c04"/>
<rect x="347.85" y="508.00" width="2.2" height="53.00" fill="#92bc6c"/>
<rect x="355.29" y="521.75" width="4.0" height="39.25" fill="#4e1c04"/>
<rect x="356.19" y="522.25" width="2.2" height="38.75" fill="#92bc6c"/>
<rect x="363.98" y="385.00" width="3.3" height="176.00" fill="#6a2008"/>
<rect x="364.48" y="385.50" width="2.3" height="175.50" fill="#6a9050"/>
<rect x="372.31" y="397.00" width="3.3" height="164.00" fill="#6a2008"/>
<rect x="372.81" y="397.50" width="2.3" height="163.50" fill="#6a9050"/>
<rect x="380.65" y="407.00" width="3.3" height="154.00" fill="#6a2008"/>
<rect x="381.15" y="407.50" width="2.3" height="153.50" fill="#6a9050"/>
<rect x="388.99" y="436.00" width="3.3" height="125.00" fill="#6a2008"/>
<rect x="389.49" y="436.50" width="2.3" height="124.50" fill="#6a9050"/>
<rect x="397.32" y="371.50" width="3.3" height="189.50" fill="#6a2008"/>
<rect x="397.82" y="372.00" width="2.3" height="189.00" fill="#6a9050"/>
<rect x="396.97" y="357.50" width="4" height="14.00" fill="#b8e6c4"/>
<rect x="397.97" y="357.50" width="2" height="14.00" fill="#1f9a58"/>
<rect x="405.31" y="510.00" width="4.0" height="51.00" fill="#4e1c04"/>
<rect x="406.21" y="510.50" width="2.2" height="50.50" fill="#92bc6c"/>
<rect x="413.65" y="521.75" width="4.0" height="39.25" fill="#4e1c04"/>
<rect x="414.55" y="522.25" width="2.2" height="38.75" fill="#92bc6c"/>
<rect x="421.98" y="369.50" width="4.0" height="191.50" fill="#4e1c04"/>
<rect x="422.88" y="370.00" width="2.2" height="191.00" fill="#92bc6c"/>
<rect x="430.32" y="380.50" width="4.0" height="180.50" fill="#4e1c04"/>
<rect x="431.22" y="381.00" width="2.2" height="180.00" fill="#92bc6c"/>
<rect x="438.66" y="401.25" width="4.0" height="159.75" fill="#4e1c04"/>
<rect x="439.56" y="401.75" width="2.2" height="159.25" fill="#92bc6c"/>
<rect x="446.99" y="412.50" width="4.0" height="148.50" fill="#4e1c04"/>
<rect x="447.89" y="413.00" width="2.2" height="148.00" fill="#92bc6c"/>
<rect x="455.33" y="324.50" width="4.0" height="236.50" fill="#5a2208"/>
<rect x="456.23" y="325.00" width="2.2" height="236.00" fill="#8a7450"/>
<rect x="463.67" y="492.50" width="4.0" height="68.50" fill="#5a2208"/>
<rect x="464.57" y="493.00" width="2.2" height="68.00" fill="#8a7450"/>
<rect x="472.01" y="514.50" width="4.0" height="46.50" fill="#5a2208"/>
<rect x="472.91" y="515.00" width="2.2" height="46.00" fill="#8a7450"/>
<rect x="480.34" y="333.75" width="4.0" height="227.25" fill="#5a2208"/>
<rect x="481.24" y="334.25" width="2.2" height="226.75" fill="#8a7450"/>
<rect x="488.68" y="347.00" width="4.0" height="214.00" fill="#5a2208"/>
<rect x="489.58" y="347.50" width="2.2" height="213.50" fill="#8a7450"/>
<rect x="497.02" y="365.00" width="4.0" height="196.00" fill="#5a2208"/>
<rect x="497.92" y="365.50" width="2.2" height="195.50" fill="#8a7450"/>
<rect x="505.70" y="367.50" width="3.3" height="193.50" fill="#6a2008"/>
<rect x="506.20" y="368.00" width="2.3" height="193.00" fill="#6a9050"/>
<rect x="514.04" y="266.25" width="3.3" height="294.75" fill="#6a2008"/>
<rect x="514.54" y="266.75" width="2.3" height="294.25" fill="#6a9050"/>
<rect x="522.38" y="473.75" width="3.3" height="87.25" fill="#6a2008"/>
<rect x="522.88" y="474.25" width="2.3" height="86.75" fill="#6a9050"/>
<rect x="530.71" y="512.00" width="3.3" height="49.00" fill="#6a2008"/>
<rect x="531.21" y="512.50" width="2.3" height="48.50" fill="#6a9050"/>
<rect x="538.70" y="505.50" width="4.0" height="55.50" fill="#5a2208"/>
<rect x="539.60" y="506.00" width="2.2" height="55.00" fill="#8a7450"/>
<rect x="547.04" y="272.00" width="4.0" height="289.00" fill="#4e1c04"/>
<rect x="547.94" y="272.50" width="2.2" height="288.50" fill="#92bc6c"/>
<rect x="555.37" y="273.75" width="4.0" height="287.25" fill="#4e1c04"/>
<rect x="556.27" y="274.25" width="2.2" height="286.75" fill="#92bc6c"/>
<rect x="563.71" y="320.00" width="4.0" height="241.00" fill="#4e1c04"/>
<rect x="564.61" y="320.50" width="2.2" height="240.50" fill="#92bc6c"/>
<rect x="572.05" y="232.50" width="4.0" height="328.50" fill="#4e1c04"/>
<rect x="572.95" y="233.00" width="2.2" height="328.00" fill="#92bc6c"/>
<rect x="580.38" y="468.75" width="4.0" height="92.25" fill="#4e1c04"/>
<rect x="581.28" y="469.25" width="2.2" height="91.75" fill="#92bc6c"/>
<rect x="588.72" y="493.75" width="4.0" height="67.25" fill="#4e1c04"/>
<rect x="589.62" y="494.25" width="2.2" height="66.75" fill="#92bc6c"/>
<rect x="597.06" y="240.00" width="4.0" height="321.00" fill="#4e1c04"/>
<rect x="597.96" y="240.50" width="2.2" height="320.50" fill="#92bc6c"/>
<rect x="605.39" y="265.50" width="4.0" height="295.50" fill="#5a2208"/>
<rect x="606.29" y="266.00" width="2.2" height="295.00" fill="#8a7450"/>
<rect x="613.73" y="298.00" width="4.0" height="263.00" fill="#5a2208"/>
<rect x="614.63" y="298.50" width="2.2" height="262.50" fill="#8a7450"/>
<rect x="622.07" y="297.00" width="4.0" height="264.00" fill="#5a2208"/>
<rect x="622.97" y="297.50" width="2.2" height="263.50" fill="#8a7450"/>
<rect x="630.40" y="192.50" width="4.0" height="368.50" fill="#4e1c04"/>
<rect x="631.30" y="193.00" width="2.2" height="368.00" fill="#92bc6c"/>
<rect x="639.09" y="461.25" width="3.3" height="99.75" fill="#6a2008"/>
<rect x="639.59" y="461.75" width="2.3" height="99.25" fill="#6a9050"/>
<rect x="647.43" y="490.00" width="3.3" height="71.00" fill="#6a2008"/>
<rect x="647.93" y="490.50" width="2.3" height="70.50" fill="#6a9050"/>
<rect x="655.76" y="158.75" width="3.3" height="402.25" fill="#6a2008"/>
<rect x="656.26" y="159.25" width="2.3" height="401.75" fill="#6a9050"/>
<rect x="664.10" y="227.50" width="3.3" height="333.50" fill="#6a2008"/>
<rect x="664.60" y="228.00" width="2.3" height="333.00" fill="#6a9050"/>
<rect x="672.09" y="253.75" width="4.0" height="307.25" fill="#5a2208"/>
<rect x="672.99" y="254.25" width="2.2" height="306.75" fill="#8a7450"/>
<rect x="680.42" y="261.25" width="4.0" height="299.75" fill="#4e1c04"/>
<rect x="681.32" y="261.75" width="2.2" height="299.25" fill="#92bc6c"/>
<rect x="688.76" y="164.50" width="4.0" height="396.50" fill="#4e1c04"/>
<rect x="689.66" y="165.00" width="2.2" height="396.00" fill="#92bc6c"/>
<rect x="688.76" y="115.50" width="4" height="49.00" fill="#b8e6c4"/>
<rect x="689.76" y="115.50" width="2" height="49.00" fill="#1f9a58"/>
<rect x="697.10" y="432.00" width="4.0" height="129.00" fill="#4e1c04"/>
<rect x="698.00" y="432.50" width="2.2" height="128.50" fill="#92bc6c"/>
<rect x="705.43" y="479.50" width="4.0" height="81.50" fill="#4e1c04"/>
<rect x="706.33" y="480.00" width="2.2" height="81.00" fill="#92bc6c"/>
<rect x="713.77" y="131.50" width="4.0" height="429.50" fill="#4e1c04"/>
<rect x="714.67" y="132.00" width="2.2" height="429.00" fill="#92bc6c"/>
<rect x="713.77" y="120.50" width="4" height="11.00" fill="#b8e6c4"/>
<rect x="714.77" y="120.50" width="2" height="11.00" fill="#1f9a58"/>
<rect x="722.11" y="166.70" width="4.0" height="394.30" fill="#5a2208"/>
<rect x="723.01" y="167.20" width="2.2" height="393.80" fill="#8a7450"/>
<rect x="730.44" y="215.80" width="4.0" height="345.20" fill="#5a2208"/>
<rect x="731.34" y="216.30" width="2.2" height="344.70" fill="#8a7450"/>
<rect x="738.78" y="220.00" width="4.0" height="341.00" fill="#5a2208"/>
<rect x="739.68" y="220.50" width="2.2" height="340.50" fill="#8a7450"/>
<rect x="747.12" y="127.00" width="4.0" height="434.00" fill="#5a2208"/>
<rect x="748.02" y="127.50" width="2.2" height="433.50" fill="#8a7450"/>
<rect x="747.12" y="74.25" width="4" height="52.75" fill="#b8e6c4"/>
<rect x="748.12" y="74.25" width="2" height="52.75" fill="#1f9a58"/>
<rect x="755.45" y="422.50" width="4.0" height="138.50" fill="#5a2208"/>
<rect x="756.35" y="423.00" width="2.2" height="138.00" fill="#8a7450"/>
<rect x="763.79" y="471.25" width="4.0" height="89.75" fill="#5a2208"/>
<rect x="764.69" y="471.75" width="2.2" height="89.25" fill="#8a7450"/>
<rect x="772.13" y="127.75" width="4.0" height="433.25" fill="#5a2208"/>
<rect x="773.03" y="128.25" width="2.2" height="432.75" fill="#8a7450"/>
<rect x="772.13" y="96.25" width="4" height="31.50" fill="#b8e6c4"/>
<rect x="773.13" y="96.25" width="2" height="31.50" fill="#1f9a58"/>
<rect x="780.81" y="165.25" width="3.3" height="395.75" fill="#6a2008"/>
<rect x="781.31" y="165.75" width="2.3" height="395.25" fill="#6a9050"/>
<rect x="780.46" y="135.00" width="4" height="30.25" fill="#b8e6c4"/>
<rect x="781.46" y="135.00" width="2" height="30.25" fill="#1f9a58"/>
<rect x="789.15" y="206.25" width="3.3" height="354.75" fill="#6a2008"/>
<rect x="789.65" y="206.75" width="2.3" height="354.25" fill="#6a9050"/>
<rect x="797.49" y="236.25" width="3.3" height="324.75" fill="#6a2008"/>
<rect x="797.99" y="236.75" width="2.3" height="324.25" fill="#6a9050"/>
<rect x="805.82" y="194.00" width="3.3" height="367.00" fill="#6a2008"/>
<rect x="806.32" y="194.50" width="2.3" height="366.50" fill="#6a9050"/>
<rect x="805.47" y="55.30" width="4" height="138.70" fill="#b8e6c4"/>
<rect x="806.47" y="55.30" width="2" height="138.70" fill="#1f9a58"/>
<rect x="813.81" y="417.50" width="4.0" height="143.50" fill="#5a2208"/>
<rect x="814.71" y="418.00" width="2.2" height="143.00" fill="#8a7450"/>
<rect x="822.15" y="465.50" width="4.0" height="95.50" fill="#5a2208"/>
<rect x="823.05" y="466.00" width="2.2" height="95.00" fill="#8a7450"/>
<rect x="830.48" y="163.50" width="4.0" height="397.50" fill="#4e1c04"/>
<rect x="831.38" y="164.00" width="2.2" height="397.00" fill="#92bc6c"/>
<rect x="830.58" y="87.50" width="3.8" height="76.00" fill="#2a8a48"/>
<rect x="831.48" y="88.30" width="2.0" height="75.20" fill="#5cb868"/>
<rect x="838.82" y="233.50" width="4.0" height="327.50" fill="#4e1c04"/>
<rect x="839.72" y="234.00" width="2.2" height="327.00" fill="#92bc6c"/>
<rect x="838.92" y="130.00" width="3.8" height="103.50" fill="#2a8a48"/>
<rect x="839.82" y="130.80" width="2.0" height="102.70" fill="#5cb868"/>
<rect x="847.16" y="220.50" width="4.0" height="340.50" fill="#4e1c04"/>
<rect x="848.06" y="221.00" width="2.2" height="340.00" fill="#92bc6c"/>
<rect x="847.16" y="186.25" width="4" height="34.25" fill="#b8e6c4"/>
<rect x="848.16" y="186.25" width="2" height="34.25" fill="#1f9a58"/>
<rect x="855.49" y="240.50" width="4.0" height="320.50" fill="#4e1c04"/>
<rect x="856.39" y="241.00" width="2.2" height="320.00" fill="#92bc6c"/>
<rect x="855.59" y="221.00" width="3.8" height="19.50" fill="#2a8a48"/>
<rect x="856.49" y="221.80" width="2.0" height="18.70" fill="#5cb868"/>
<rect x="863.83" y="226.50" width="4.0" height="334.50" fill="#4e1c04"/>
<rect x="864.73" y="227.00" width="2.2" height="334.00" fill="#92bc6c"/>
<rect x="863.83" y="65.00" width="4" height="161.50" fill="#b8e6c4"/>
<rect x="864.83" y="65.00" width="2" height="161.50" fill="#1f9a58"/>
<polyline points="107.19,410.00 115.53,410.79 123.86,413.36 132.20,419.79 140.54,424.50 148.87,427.17 157.21,429.57 165.55,430.19 173.88,431.61 182.22,430.97 190.56,425.86 198.89,424.36 207.23,424.09 215.57,423.54 223.90,424.79 232.24,425.50 240.58,426.21 248.91,429.25 257.25,429.79 265.59,430.14 273.92,430.25 282.26,431.32 290.60,432.32 298.93,432.18 307.27,433.54 315.61,434.79 323.94,433.46 332.28,433.46 340.62,433.11 348.95,431.75 357.29,431.11 365.63,428.04 373.96,423.21 382.30,420.07 390.64,416.32 398.97,410.61 407.31,407.32 415.65,403.75 423.98,395.64 432.32,389.46 440.66,384.29 448.99,377.93 457.33,369.18 465.67,365.32 474.01,363.36 482.34,358.61 490.68,352.93 499.02,346.39 507.35,340.79 515.69,332.57 524.03,328.57 532.36,323.82 540.70,341.32 549.04,330.32 557.37,324.82 565.71,317.43 574.05,314.11 582.38,310.07 590.72,308.21 599.06,275.11 607.39,273.86 615.73,267.14 624.07,260.79 632.40,253.86 640.74,248.14 649.08,242.36 657.41,236.11 665.75,230.82 674.09,226.36 682.42,223.86 690.76,221.50 699.10,220.18 707.43,219.29 715.77,218.57 724.11,214.82 732.44,212.46 740.78,207.53 749.12,202.17 757.45,200.53 765.79,201.14 774.13,200.60 782.46,201.96 790.80,203.14 799.14,208.79 807.47,218.36 815.81,224.00 824.15,226.68 832.48,231.79 840.82,241.54 849.16,248.11 857.49,254.75 865.83,259.39" fill="none" stroke="#ee0000" stroke-width="4.2" stroke-linejoin="round" stroke-linecap="round"/>
<polyline points="107.19,396.71 115.53,394.07 123.86,395.07 132.20,403.50 140.54,410.57 148.87,416.43 157.21,419.86 165.55,421.00 173.88,425.07 182.22,425.07 190.56,425.32 198.89,426.11 207.23,426.68 215.57,425.68 223.90,426.86 232.24,425.96 240.58,425.57 248.91,426.00 257.25,426.54 265.59,426.29 273.92,426.86 282.26,428.18 290.60,429.43 298.93,430.43 307.27,433.64 315.61,434.82 323.94,437.21 332.28,438.36 340.62,439.54 348.95,438.82 357.29,437.82 365.63,436.93 373.96,436.21 382.30,433.64 390.64,433.64 398.97,431.75 407.31,432.11 415.65,432.11 423.98,429.89 432.32,427.54 440.66,426.71 448.99,423.36 457.33,418.64 465.67,416.14 474.01,415.11 482.34,410.00 490.68,405.21 499.02,400.04 507.35,393.61 515.69,385.29 524.03,382.61 532.36,382.25 540.70,406.79 549.04,396.07 557.37,383.04 565.71,376.25 574.05,371.43 582.38,370.71 590.72,368.11 599.06,330.18 607.39,329.25 615.73,332.71 624.07,329.43 632.40,323.71 640.74,322.64 649.08,322.11 657.41,310.50 665.75,305.07 674.09,298.75 682.42,293.64 690.76,282.64 699.10,278.46 707.43,276.96 715.77,271.50 724.11,262.81 732.44,257.39 740.78,251.50 749.12,245.61 757.45,244.25 765.79,243.07 774.13,239.61 782.46,235.08 790.80,233.71 799.14,236.04 807.47,233.33 815.81,232.61 824.15,231.79 832.48,230.54 840.82,229.83 849.16,226.97 857.49,224.79 865.83,226.18" fill="none" stroke="#a9d18e" stroke-width="4.4" stroke-linejoin="round" stroke-linecap="round"/>
<rect x="144.5" y="64.5" width="30" height="8.6" rx="2" fill="#dd0000" stroke="#a00000" stroke-width="1"/>
<text x="176" y="72.3" class="lg">госпит за сутки</text>
<rect x="449.5" y="65" width="27" height="6.5" rx="0.5" fill="#66cc55" stroke="#2f8f3f" stroke-width="1"/>
<text x="479.5" y="72.3" class="lg">выписки за сутки</text>
<line x1="146" y1="99.7" x2="173" y2="99.7" stroke="#ee0000" stroke-width="4" stroke-linecap="round"/>
<text x="176.5" y="103.2" class="lg">7 линейный фильтр (госпит за сутки)</text>
<line x1="450" y1="99.9" x2="476.5" y2="99.9" stroke="#a9d18e" stroke-width="4" stroke-linecap="round"/>
<text x="479.5" y="103.2" class="lg">7 линейный фильтр (выписки за сутки)</text>
<text x="448.3" y="25.7" text-anchor="middle" class="tt">Украина. Суточные госпитализации/выписки</text>
</svg>
</body></html>
